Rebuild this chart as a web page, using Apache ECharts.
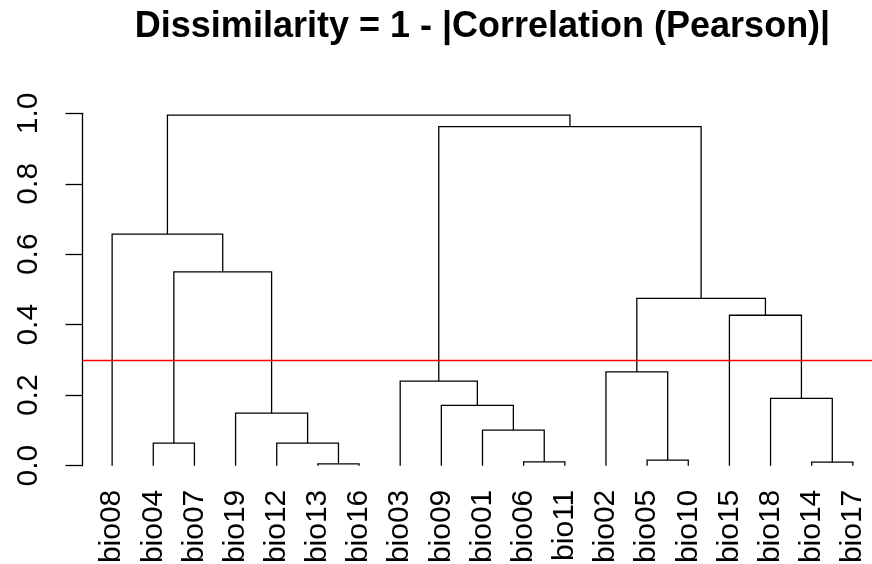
<!DOCTYPE html>
<html lang="en">
<head>
    <meta charset="UTF-8">
    <title>Dissimilarity dendrogram</title>
    <script src="https://cdn.jsdelivr.net/npm/echarts@6/dist/echarts.min.js"></script>
    <style>
        body { margin: 0; background: #fff; }
        #chart { width: 872px; height: 564px; }
    </style>
</head>
<body>
<div id="chart"></div>

<script>
    // leaf order along the x axis
    var leaves = ['bio08', 'bio04', 'bio07', 'bio19', 'bio12', 'bio13', 'bio16', 'bio03', 'bio09', 'bio01',
                  'bio06', 'bio11', 'bio02', 'bio05', 'bio10', 'bio15', 'bio18', 'bio14', 'bio17'];
    // merges, hclust style: negative = leaf position (1-based), positive = earlier merge
    var mergeA  = [-6, -11, -18, -14, -2, -5, -10, -4, -9, -17, -8, -13, -16, 12, 5, -1, 11, 16];
    var mergeB  = [-7, -12, -19, -15, -3, 1, 2, 6, 7, 3, 9, 4, 10, 13, 8, 15, 14, 17];
    var heights = [0.005, 0.011, 0.010, 0.016, 0.064, 0.064, 0.101, 0.149, 0.171, 0.191,
                   0.240, 0.266, 0.427, 0.475, 0.550, 0.657, 0.962, 0.995];
    var cutHeight = 0.3;
    var yTicks = [0, 0.2, 0.4, 0.6, 0.8, 1.0];

    var chart = echarts.init(document.getElementById('chart'));

    function node(id, mx) {
        if (id < 0) return { x: -id, h: 0 };
        return { x: mx[id - 1], h: heights[id - 1] };
    }

    var mergeX = [];
    var segs = [];
    for (var i = 0; i < heights.length; i++) {
        var a = node(mergeA[i], mergeX), b = node(mergeB[i], mergeX);
        mergeX.push((a.x + b.x) / 2);
        segs.push({ coords: [[a.x, a.h], [a.x, heights[i]], [b.x, heights[i]], [b.x, b.h]] });
    }

    var font = 'Liberation Sans, Arial, sans-serif';

    var option = {
        animation: false,
        title: {
            text: 'Dissimilarity = 1 - |Correlation (Pearson)|',
            left: 477.5,
            top: 4,
            textAlign: 'center',
            textStyle: { fontFamily: font, fontWeight: 'bold', fontSize: 36, color: '#000' }
        },
        grid: { left: 82.5, top: 113.3, width: 800, height: 352.4, outerBoundsMode: 'none' },
        xAxis: {
            type: 'value',
            min: 0.28,
            max: 19.72,
            axisLine: { show: false },
            axisTick: { show: false },
            splitLine: { show: false },
            axisLabel: {
                customValues: leaves.map(function (d, i) { return i + 1; }),
                formatter: function (v) { return leaves[Math.round(v) - 1]; },
                rotate: 90,
                margin: 24,
                padding: [0, 0, 8, 0],
                fontFamily: font,
                fontSize: 30,
                color: '#000'
            }
        },
        yAxis: {
            type: 'value',
            min: 0,
            max: 1,
            interval: 0.2,
            axisLine: { show: true, lineStyle: { color: '#000', width: 1.3 } },
            axisTick: { show: true, length: 17, lineStyle: { color: '#000', width: 1.3 } },
            splitLine: { show: false },
            axisLabel: {
                customValues: yTicks,
                formatter: function (v) { return v.toFixed(1); },
                rotate: 90,
                margin: 39,
                fontFamily: font,
                fontSize: 30,
                color: '#000'
            }
        },
        series: [{
            type: 'lines',
            coordinateSystem: 'cartesian2d',
            polyline: true,
            silent: true,
            lineStyle: { color: '#000', width: 1.3, opacity: 1 },
            data: segs,
            markLine: {
                silent: true,
                symbol: 'none',
                label: { show: false },
                lineStyle: { color: '#ff0000', width: 1.3, type: 'solid' },
                data: [{ yAxis: cutHeight }]
            }
        }]
    };

    chart.setOption(option);
</script>
</body>
</html>
